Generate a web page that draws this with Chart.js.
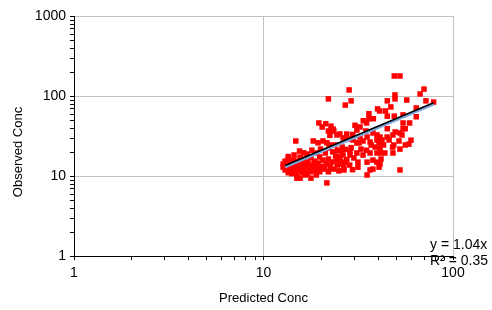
<!DOCTYPE html>
<html>
<head>
<meta charset="utf-8">
<script src="https://cdn.jsdelivr.net/npm/chart.js@4.4.1/dist/chart.umd.min.js"></script>
<style>
	html, body { margin: 0; padding: 0; background: #fff; }
	#wrap { width: 492px; height: 310px; }
</style>
</head>
<body>
<div id="wrap"><canvas id="concChart"></canvas></div>
<script>
// Predicted vs observed concentrations
const predicted = [
	49, 52.5, 28.3, 70.3, 67, 22, 49.4, 49.4, 57, 45,
	29, 27, 79, 72, 64, 40, 41, 44, 47, 36,
	38, 36, 45, 49, 54.5, 64, 59, 54.5, 19.6, 21.3,
	22.7, 30.4, 33.6, 35, 20.4, 22, 23.5, 25.3, 27.5, 45,
	49.5, 54.5, 56, 60, 56, 58.5, 14.8, 18.3, 19.4, 20.6,
	21.6, 22.4,
	23.8, 25.6, 28.6, 32, 32.7, 35, 37, 40.7, 43, 48.7,
	43.7, 41.7, 41.7, 48,
	31.1, 32.3, 34.7, 37.8, 39.7, 41.2, 42.2, 44.9, 39.7, 35.2,
	32.3, 29.7, 31.1, 33.5, 36.5, 38.8, 41.2, 46, 48.2, 52.5,
	53.8, 51.9, 48.2, 52.5, 39.7, 36.5, 33.5, 31.1, 28.6, 26.3,
	25.3, 24.4, 26.9, 31.5, 35.2, 37.8, 39.7, 40.7, 37.8, 36.5,
	41.2,
	15, 15.6, 16.6, 17.8, 19, 21.6, 35.2, 52.5, 26.6, 26,
	31.5,
	12.7, 12.7, 13, 13, 13.3, 13.5, 13.5, 13.8, 13.8, 14.1,
	14.1, 14.4, 14.4, 14.7, 14.7, 15, 15, 15.3, 15.3, 15.6,
	15.6, 16, 16, 16.3, 16.3, 16.6, 17, 17, 17.4, 17.4,
	17.8, 17.8, 18.2, 18.6, 18.6, 19, 19.4, 19.8, 19.8, 20.2,
	20.6, 21, 21.5, 22, 22, 22.5, 23, 23.5, 24, 24.5,
	25, 25.5, 26.5, 27.5, 28.5, 29.5, 30, 29, 27, 26,
	24.6, 23.2, 22.2, 21.2, 20, 19, 18, 17, 16.3, 15.5,
	14.5, 13.5,
	26.3, 24.4, 22.4, 23.3, 27.8, 29.6
];
const observed = [
	178, 178, 119, 122, 106, 92, 103, 92, 89, 87,
	87, 77, 84, 87, 71, 69, 65, 65, 73, 60,
	52, 52, 56, 56, 58, 55, 46, 46, 46, 45,
	42, 43, 49, 46, 41, 36.5, 36.5, 33.5, 33.5, 39,
	35.5, 39, 39, 28, 24.4, 25, 27.4, 27.4, 26, 27.4,
	26, 24.4,
	24.4, 20.5, 20.5, 26, 21.7, 21, 24.4, 26, 24.4, 24.4,
	19.4, 19.4, 16.3, 23,
	37.6, 41, 36.5, 34.5, 32.6, 30.7, 28.2, 30.7, 28.2, 30.7,
	30.7, 28.2, 25.9, 27.4, 26.6, 23, 22.4, 28.2, 32.6, 34.5,
	32.6, 27.4, 19.4, 21.7, 19.4, 19.4, 18.3, 19.4, 18.3, 18.3,
	17.3, 15.8, 14.9, 14.9, 14.9, 15.8, 14.9, 12.9, 12.2, 11.9,
	14.1,
	9.4, 9.4, 10.3, 9.4, 10.3, 8.2, 10.3, 11.9, 11.9, 14.1,
	12.9,
	12.9, 14.1, 11.9, 15.3, 13.2, 11, 16.3, 12.2, 14.5, 10.7,
	13.4, 11.6, 15.8, 12.6, 14.1, 10.5, 13, 11.9, 15.3, 12.9,
	17.2, 11, 14.1, 12.2, 16.3, 13.2, 10.7, 15, 12.2, 14.1,
	11.3, 16.8, 13.2, 11.9, 15.3, 12.9, 14.5, 11.3, 17.3, 13.2,
	15.8, 12.2, 14.1, 11.3, 16.3, 13.2, 15, 12.2, 17.8, 13.7,
	11.6, 15.3, 13, 16, 13.7, 12, 16.8, 22.6, 21.5, 23,
	21, 20, 22.4, 19.4, 21.7, 19.4, 21, 18.8, 19.5, 20.5,
	18.3, 17.5,
	30, 32.6, 32.2, 38.5, 29, 33
];

// Trendline through the origin: y = 1.04x over the range of the data
const slope = 1.04;
const trendRange = [13, 79];
const equationText = "y = 1.04x";
const r2Text = "R\u00b2 = 0.35";

const xTicks = [1, 10, 100];
const yTicks = [1, 10, 100, 1000];

const points = predicted.map((x, i) => ({ x: x, y: observed[i] }));

const FONT = "'Liberation Sans', Arial, sans-serif";

// Minor tick marks, trendline, equation and axis titles
const extrasPlugin = {
	id: "extras",
	afterDatasetsDraw(chart) {
		const ctx = chart.ctx;
		const xs = chart.scales.x, ys = chart.scales.y;
		const x0 = xs.getPixelForValue(trendRange[0]);
		const x1 = xs.getPixelForValue(trendRange[1]);
		const y0 = ys.getPixelForValue(trendRange[0] * slope);
		const y1 = ys.getPixelForValue(trendRange[1] * slope);

		ctx.save();
		ctx.lineCap = "butt";
		// light blue shadow under the line
		ctx.strokeStyle = "#7fa9de";
		ctx.lineWidth = 2.5;
		ctx.beginPath();
		ctx.moveTo(x0, y0 + 1.5);
		ctx.lineTo(x1, y1 + 1.5);
		ctx.stroke();
		ctx.strokeStyle = "#000";
		ctx.lineWidth = 1.6;
		ctx.beginPath();
		ctx.moveTo(x0, y0);
		ctx.lineTo(x1, y1);
		ctx.stroke();
		ctx.restore();
	},
	afterDraw(chart) {
		const ctx = chart.ctx;
		const area = chart.chartArea;
		const xs = chart.scales.x, ys = chart.scales.y;

		ctx.save();
		ctx.strokeStyle = "#000";
		ctx.lineWidth = 1;
		ctx.beginPath();
		for (let d = 1; d < 100; d *= 10) {
			for (let m = 2; m <= 9; m++) {
				const px = Math.round(xs.getPixelForValue(m * d)) + 0.5;
				ctx.moveTo(px, area.bottom);
				ctx.lineTo(px, area.bottom + 4);
			}
		}
		for (let d = 1; d < 1000; d *= 10) {
			for (let m = 2; m <= 9; m++) {
				const py = Math.round(ys.getPixelForValue(m * d)) + 0.5;
				ctx.moveTo(area.left - 4, py);
				ctx.lineTo(area.left, py);
			}
		}
		ctx.stroke();

		ctx.fillStyle = "#000";
		ctx.font = "14px " + FONT;
		ctx.textBaseline = "middle";
		ctx.textAlign = "left";
		ctx.fillText(equationText, area.right - 23, area.bottom - 11);
		ctx.fillText(r2Text, area.right - 23, area.bottom + 5);

		ctx.font = "13px " + FONT;
		ctx.textAlign = "center";
		ctx.fillText("Predicted Conc", (area.left + area.right) / 2, 298);
		ctx.translate(18, (area.top + area.bottom) / 2 + 16);
		ctx.rotate(-Math.PI / 2);
		ctx.fillText("Observed Conc", 0, 0);
		ctx.restore();
	}
};

new Chart(document.getElementById("concChart"), {
	type: "scatter",
	data: {
		datasets: [{
			label: "Observed",
			data: points,
			pointStyle: "rect",
			pointRadius: 3.9,
			pointHoverRadius: 3.9,
			backgroundColor: "#ff0000",
			borderColor: "#ff0000",
			borderWidth: 0
		}]
	},
	options: {
		responsive: true,
		maintainAspectRatio: false,
		animation: false,
		events: [],
		layout: { padding: { top: 16, right: 39, left: 0, bottom: 0 } },
		plugins: {
			legend: { display: false },
			tooltip: { enabled: false }
		},
		scales: {
			x: {
				type: "logarithmic",
				min: 1,
				max: 100,
				afterBuildTicks: (scale) => {
					scale.ticks = xTicks.map(v => ({ value: v, major: true }));
				},
				afterFit: (scale) => { scale.height = 54; },
				grid: { color: "#c0c0c0", tickColor: "#000", tickLength: 4, lineWidth: 1 },
				border: { display: true, color: "#000", width: 1 },
				ticks: {
					color: "#000",
					padding: 5,
					maxRotation: 0,
					autoSkip: false,
					font: { family: FONT, size: 14 },
					callback: (v) => String(v)
				}
			},
			y: {
				type: "logarithmic",
				min: 1,
				max: 1000,
				afterBuildTicks: (scale) => {
					scale.ticks = yTicks.map(v => ({ value: v, major: true }));
				},
				afterFit: (scale) => { scale.width = 74; },
				grid: { color: "#c0c0c0", tickColor: "#000", tickLength: 4, lineWidth: 1 },
				border: { display: true, color: "#000", width: 1 },
				ticks: {
					color: "#000",
					padding: 4,
					autoSkip: false,
					font: { family: FONT, size: 14 },
					callback: (v) => String(v)
				}
			}
		}
	},
	plugins: [extrasPlugin]
});
</script>
</body>
</html>
